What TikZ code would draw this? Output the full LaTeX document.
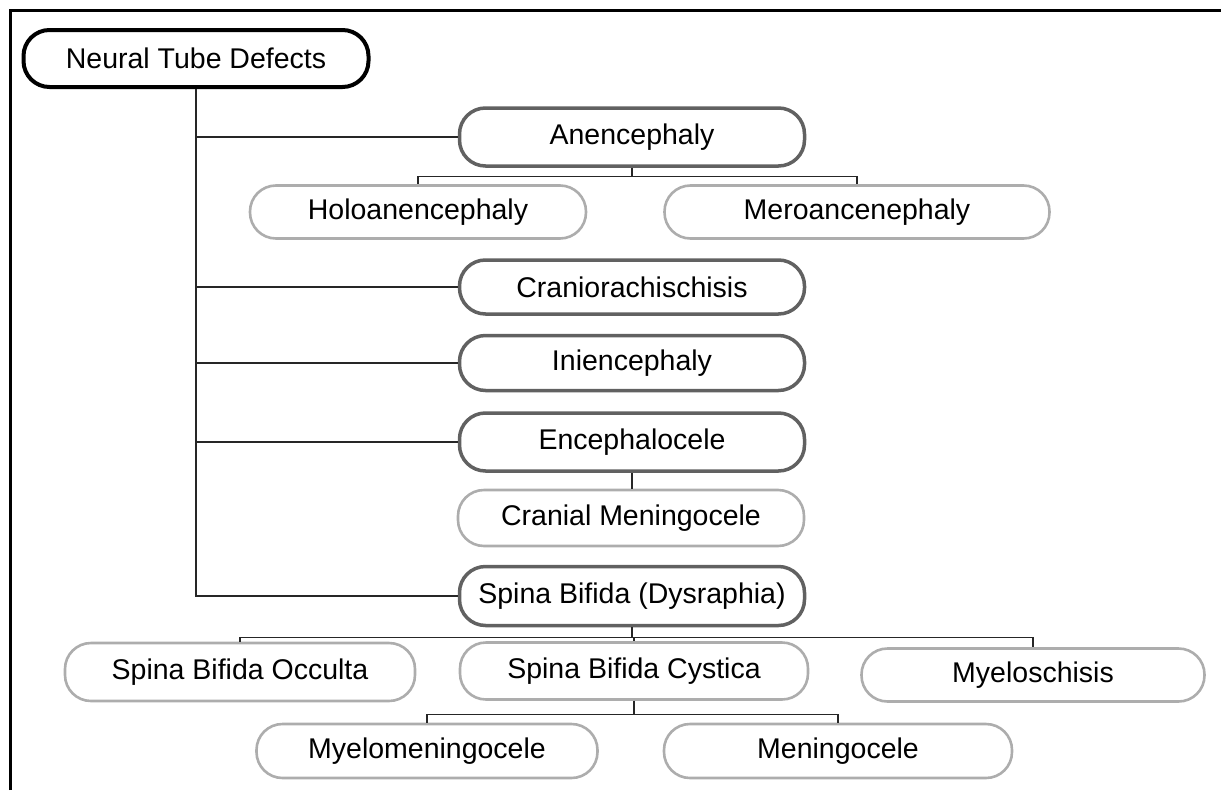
\documentclass[tikz,border=0pt]{standalone}
\usepackage{fontspec}
\setmainfont{Liberation Sans}
\begin{document}
\begin{tikzpicture}[x=1pt,y=-1pt,
  box/.style={draw, rounded corners=26pt, inner sep=0pt, minimum height=54pt,
    font=\fontsize{28.5}{32}\selectfont, fill=white},
  topbox/.style={box, draw=black, line width=4pt},
  mainbox/.style={box, draw=black!62, line width=3.5pt},
  subbox/.style={box, draw=black!32, line width=2.6pt},
  conn/.style={draw=black!85, line width=1.3pt}]
\useasboundingbox (0,0) rectangle (1221,790);
\draw[line width=3pt] (10,790) -- (10,10) -- (1221,10);

\node[topbox, minimum width=345pt, minimum height=57pt] (ntd) at (196,58.5) {Neural Tube Defects};
\node[mainbox, minimum width=345pt, minimum height=58pt] (anen) at (632,137) {Anencephaly};
\node[subbox, minimum width=336pt, minimum height=53pt] (holo) at (418,212) {Holoanencephaly};
\node[subbox, minimum width=385pt, minimum height=53pt] (mero) at (857,212) {Meroancenephaly};
\node[mainbox, minimum width=345pt, minimum height=54pt] (cran) at (632,287) {Craniorachischisis};
\node[mainbox, minimum width=345pt, minimum height=55pt] (inien) at (632,363) {Iniencephaly};
\node[mainbox, minimum width=345pt, minimum height=58pt] (ence) at (632,442) {Encephalocele};
\node[subbox, minimum width=346pt, minimum height=56pt] (cmen) at (631,518) {Cranial Meningocele};
\node[mainbox, minimum width=345pt, minimum height=59pt] (spina) at (632,596) {Spina Bifida (Dysraphia)};
\node[subbox, minimum width=350pt, minimum height=58pt] (sbo) at (240,672) {Spina Bifida Occulta};
\node[subbox, minimum width=348pt, minimum height=57pt] (sbc) at (634,671) {Spina Bifida Cystica};
\node[subbox, minimum width=343pt, minimum height=53pt] (myelo) at (1033,675) {Myeloschisis};
\node[subbox, minimum width=341pt, minimum height=54pt] (mm) at (427,751) {Myelomeningocele};
\node[subbox, minimum width=348pt, minimum height=54pt] (men) at (838,751) {Meningocele};

\draw[conn] (ntd.south) |- (anen.west);
\draw[conn] (ntd.south) |- (cran.west);
\draw[conn] (ntd.south) |- (inien.west);
\draw[conn] (ntd.south) |- (ence.west);
\draw[conn] (ntd.south) |- (spina.west);

\draw[conn] (anen.south) -- ++(0,9) -| (holo.north);
\draw[conn] (anen.south) -- ++(0,9) -| (mero.north);
\draw[conn] (ence.south) -- (cmen.north -| ence.south);
\draw[conn] (spina.south) -- ++(0,10) -| (sbo.north);
\draw[conn] (spina.south) -- ++(0,10) -| (sbc.north);
\draw[conn] (spina.south) -- ++(0,10) -| (myelo.north);
\draw[conn] (sbc.south) -- ++(0,14) -| (mm.north);
\draw[conn] (sbc.south) -- ++(0,14) -| (men.north);
\end{tikzpicture}
\end{document}
